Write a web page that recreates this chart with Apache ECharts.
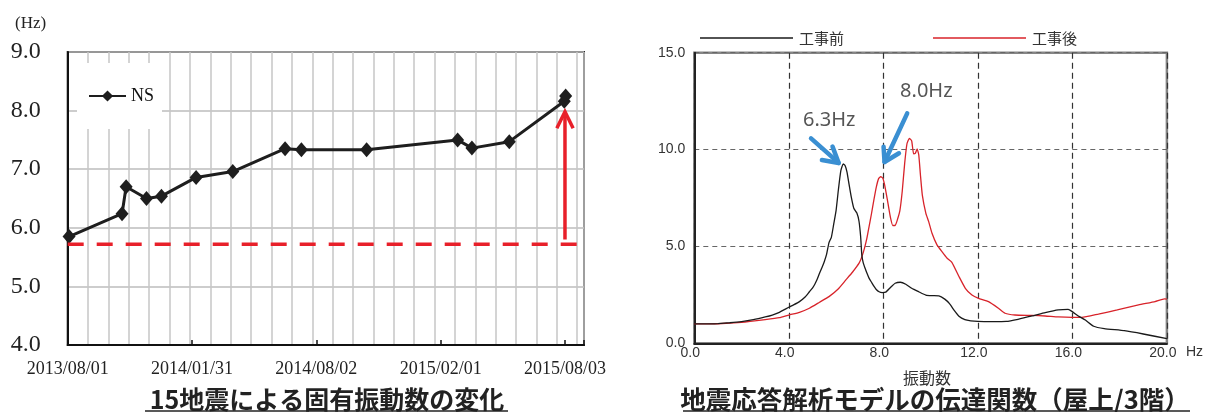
<!DOCTYPE html>
<html><head><meta charset="utf-8">
<script src="https://cdn.jsdelivr.net/npm/echarts@6/dist/echarts.min.js"></script>
<style>html,body{margin:0;padding:0;background:#fff}#c{width:1206px;height:412px}</style>
</head><body><div id="c"></div>
<script>
// ---------- Left chart data ----------
const startDate = '2013/08/01';
const endDate = '2015/08/31';
const quakeDates = ['2013/08/03','2013/10/20','2013/10/26','2013/11/25','2013/12/17','2014/02/06','2014/04/01','2014/06/17','2014/07/11','2014/10/15','2015/02/26','2015/03/19','2015/05/13','2015/08/02','2015/08/04'];
const nsFreq = [5.85,6.24,6.70,6.50,6.54,6.86,6.96,7.35,7.33,7.33,7.50,7.36,7.47,8.16,8.25];
const dateTickLabels = ['2013/08/01','2014/01/31','2014/08/02','2015/02/01','2015/08/03'];
const baselineFreq = 5.72;
const baselineEndDate = '2015/08/21';
const arrowDate = '2015/08/03';
const arrowFromFreq = 5.80;
const arrowToFreq = 7.98;

// ---------- Right chart data ----------
const freqBefore = [0,0.5,1,1.5,2,2.5,3,3.3,3.6,4,4.2,4.45,4.7,4.87,5.0,5.1,5.2,5.3,5.4,5.5,5.6,5.7,5.8,5.9,6.0,6.1,6.2,6.3,6.38,6.46,6.55,6.64,6.75,6.88,6.97,7.04,7.09,7.15,7.22,7.3,7.4,7.5,7.6,7.7,7.82,7.95,8.1,8.3,8.5,8.72,8.95,9.2,9.5,9.8,10.05,10.35,10.6,10.8,11.0,11.2,11.45,11.7,12.0,12.6,13.2,13.7,14.3,14.85,15.4,15.82,15.98,16.25,16.55,16.9,17.35,18.2,19.0,20.0];
const ampBefore = [1.0,1.0,1.02,1.06,1.12,1.22,1.36,1.46,1.60,1.86,1.98,2.15,2.40,2.66,2.85,3.05,3.30,3.62,3.90,4.21,4.60,5.20,5.47,6.15,6.85,7.95,8.90,9.26,9.18,8.85,8.20,7.57,6.97,6.72,6.30,5.50,4.55,4.15,3.90,3.64,3.35,3.15,2.95,2.78,2.66,2.62,2.64,2.88,3.10,3.15,3.05,2.84,2.66,2.49,2.46,2.45,2.28,2.05,1.70,1.40,1.22,1.16,1.13,1.12,1.13,1.24,1.41,1.58,1.72,1.75,1.65,1.41,1.20,0.88,0.76,0.65,0.48,0.24];
const freqAfter = [0,1,2,3,3.6,4.0,4.45,4.87,5.3,5.7,6.1,6.4,6.7,6.98,7.1,7.2,7.3,7.4,7.5,7.6,7.7,7.8,7.89,7.98,8.05,8.12,8.2,8.3,8.4,8.5,8.6,8.7,8.8,8.9,9.0,9.1,9.2,9.28,9.35,9.43,9.5,9.57,9.65,9.8,9.92,10.06,10.27,10.48,10.7,10.9,11.2,11.47,11.75,12.03,12.45,12.87,13.15,13.57,14.3,14.85,15.4,16.0,16.4,17.1,17.9,18.8,19.5,19.9,20.0];
const ampAfter = [1.0,1.01,1.08,1.22,1.32,1.46,1.60,1.81,2.12,2.41,2.82,3.25,3.68,4.15,4.50,4.90,5.40,6.05,6.70,7.40,8.05,8.50,8.60,8.52,8.20,7.75,7.20,6.50,6.08,6.08,6.40,6.85,7.85,9.25,10.30,10.58,10.45,9.78,9.80,10.03,9.72,8.69,7.65,6.71,6.28,5.68,5.08,4.73,4.39,4.18,3.45,2.84,2.49,2.32,2.15,1.81,1.55,1.46,1.44,1.41,1.36,1.34,1.34,1.51,1.72,1.98,2.15,2.29,2.28];
const peakBefore = 6.3;
const peakAfter = 8.0;

// annotations (data coordinates of the right chart)
const arrowBefore = {from:[4.94,10.58], tip:[6.11,9.31], wingA:[5.40,9.46], wingB:[5.85,10.15], text:[5.71,11.53]};
const arrowAfter  = {from:[9.01,11.87], tip:[8.05,9.36], wingA:[8.01,10.15], wingB:[8.66,9.81], text:[9.82,13.0]};

// ---------- helpers ----------
function utc(s){const [y,m,d]=s.split('/').map(Number);return Date.UTC(y,m-1,d);}
function dayOf(s){return Math.round((utc(s)-utc(startDate))/86400000);}
const SERIF='Liberation Serif', SANS='Liberation Sans', JP='"Noto Sans CJK JP"';
const tickDays = dateTickLabels.map(dayOf);
const maxDay = dayOf(endDate);
const majorStep = tickDays[1]-tickDays[0];

function seg(name, xi, yi, pts, color, width, extra){
  return Object.assign({type:'line', name, xAxisIndex:xi, yAxisIndex:yi, data:pts, symbol:'none', silent:true,
    animation:false, z:6, lineStyle:{color, width, cap:'round', join:'round'}}, extra||{});
}

const chart = echarts.init(document.getElementById('c'), null, {renderer:'canvas'});
const blue = '#3a8fd2';
const option = {
  animation:false,
  backgroundColor:'#fff',
  grid:[
    {left:67.7, right:622, top:52, bottom:67, show:true, borderColor:'#2a2a2a', borderWidth:2, backgroundColor:'rgba(0,0,0,0)'},
    {left:694.3, right:36.7, top:52.7, bottom:68.7, show:true, borderColor:'#858585', borderWidth:2.5, backgroundColor:'rgba(0,0,0,0)'}
  ],
  legend:[
    {data:['NS'], left:77, top:63, padding:[24,8,24,11], backgroundColor:'#fff', itemWidth:37, itemHeight:14,
      textStyle:{fontFamily:SERIF, fontSize:18, color:'#111'}},
    {data:[{name:'工事前', icon:'rect'},{name:'工事後', icon:'rect'}], left:695, top:25.5, itemWidth:93, itemHeight:1.5, itemGap:89,
      textStyle:{fontFamily:JP, fontSize:15, color:'#333', padding:[0,0,0,1]}}
  ],
  xAxis:[
    {gridIndex:0, type:'value', min:0, max:maxDay, interval:majorStep, position:'bottom',
      axisLine:{show:true, lineStyle:{color:'#111', width:2}},
      axisTick:{show:true, inside:true, length:5, lineStyle:{color:'#111', width:1.5}},
      axisLabel:{show:true, margin:15, fontFamily:SERIF, fontSize:18, color:'#222',
        formatter:v=>{const i=tickDays.indexOf(Math.round(v));return i>=0?dateTickLabels[i]:'';}},
      splitLine:{show:false}},
    {gridIndex:0, type:'value', min:0, max:maxDay, interval:30, position:'top',
      axisLine:{show:false}, axisTick:{show:false}, axisLabel:{show:false},
      splitLine:{show:true, lineStyle:{color:'#c6c6c6', width:1.5}}},
    {gridIndex:1, type:'value', min:0, max:20, interval:4, position:'bottom',
      name:'Hz', nameLocation:'end', nameGap:19,
      nameTextStyle:{fontFamily:SANS, fontSize:14, color:'#333', verticalAlign:'top', padding:[2,0,0,0]},
      axisLine:{show:true, lineStyle:{color:'#222', width:2}},
      axisTick:{show:false},
      axisLabel:{margin:3, fontFamily:SANS, fontSize:14, color:'#333', padding:[0,8,0,0], formatter:v=>v.toFixed(1)},
      splitLine:{show:true, lineStyle:{color:'#333', width:1.2, type:[6,4]}}}
  ],
  yAxis:[
    {gridIndex:0, type:'value', min:4, max:9, interval:1,
      axisLine:{show:true, lineStyle:{color:'#111', width:2}}, axisTick:{show:false},
      axisLabel:{margin:27, fontFamily:SERIF, fontSize:24, color:'#222', formatter:v=>v.toFixed(1)},
      splitLine:{show:true, lineStyle:{color:'#bdbdbd', width:1.5}}},
    {gridIndex:1, type:'value', min:0, max:15, interval:5,
      axisLine:{show:true, lineStyle:{color:'#222', width:2}}, axisTick:{show:false},
      axisLabel:{margin:9, fontFamily:SANS, fontSize:14, color:'#333', formatter:v=>v.toFixed(1)},
      splitLine:{show:true, lineStyle:{color:'#666', width:1.2, type:[5,4]}}}
  ],
  series:[
    {type:'line', name:'NS', xAxisIndex:0, yAxisIndex:0, z:5,
      data:quakeDates.map((d,i)=>[dayOf(d), nsFreq[i]]),
      symbol:'diamond', symbolSize:[13,15], showSymbol:true,
      lineStyle:{color:'#1e1e1e', width:3}, itemStyle:{color:'#1e1e1e'}},
    seg('baseline', 0, 0, [[0, baselineFreq],[dayOf(baselineEndDate), baselineFreq]], '#e8202a', 3.5, {lineStyle:{color:'#e8202a', width:3.5, type:[16,13]}}),
    seg('arrowShaft', 0, 0, [[dayOf(arrowDate), arrowFromFreq],[dayOf(arrowDate), arrowToFreq]], '#e8202a', 3.5, {lineStyle:{color:'#e8202a', width:3.5, cap:'butt'}}),
    seg('arrowHead', 0, 0, [[dayOf(arrowDate)-12, arrowToFreq-0.28],[dayOf(arrowDate), arrowToFreq],[dayOf(arrowDate)+12, arrowToFreq-0.28]], '#e8202a', 3.5, {lineStyle:{color:'#e8202a', width:3.5, join:'miter'}}),
    {type:'line', name:'工事前', xAxisIndex:2, yAxisIndex:1, z:4, symbol:'none', smooth:0.15,
      data:freqBefore.map((f,i)=>[f, ampBefore[i]]), lineStyle:{color:'#1a1a1a', width:1.3}, itemStyle:{color:'#1a1a1a'}},
    {type:'line', name:'工事後', xAxisIndex:2, yAxisIndex:1, z:3, symbol:'none', smooth:0.15,
      data:freqAfter.map((f,i)=>[f, ampAfter[i]]), lineStyle:{color:'#d8232a', width:1.3}, itemStyle:{color:'#d8232a'}},
    seg('a1s', 2, 1, [arrowBefore.from, arrowBefore.tip], blue, 4.5),
    seg('a1h', 2, 1, [arrowBefore.wingA, arrowBefore.tip, arrowBefore.wingB], blue, 4.5),
    seg('a2s', 2, 1, [arrowAfter.from, arrowAfter.tip], blue, 4.5),
    seg('a2h', 2, 1, [arrowAfter.wingA, arrowAfter.tip, arrowAfter.wingB], blue, 4.5),
    {type:'scatter', name:'peaks', xAxisIndex:2, yAxisIndex:1, silent:true, symbolSize:1, z:7,
      itemStyle:{color:'rgba(0,0,0,0)'},
      data:[[...arrowBefore.text, peakBefore.toFixed(1)+'Hz'],[...arrowAfter.text, peakAfter.toFixed(1)+'Hz']],
      label:{show:true, position:'inside', formatter:p=>p.data[2], fontFamily:'Noto Sans', fontSize:20, color:'#2a2a2a'}}
  ],
  graphic:[
    {type:'text', x:15, y:24, style:{text:'(Hz)', font:'17px "Liberation Serif"', fill:'#222', align:'left', verticalAlign:'middle'}},
    {type:'text', x:327, y:399, style:{text:'15地震による固有振動数の変化', font:'bold 25px "Noto Sans CJK JP"', fill:'#222', align:'center', verticalAlign:'middle'}},
    {type:'line', shape:{x1:145, y1:411, x2:508, y2:411}, style:{stroke:'#222', lineWidth:1.5}},
    {type:'text', x:935, y:399, style:{text:'地震応答解析モデルの伝達関数（屋上/3階）', font:'bold 25.5px "Noto Sans CJK JP"', fill:'#222', align:'center', verticalAlign:'middle'}},
    {type:'line', shape:{x1:683, y1:411, x2:1190, y2:411}, style:{stroke:'#222', lineWidth:1.5}},
    {type:'text', x:927, y:378, style:{text:'振動数', font:'16px "Noto Sans CJK JP"', fill:'#333', align:'center', verticalAlign:'middle'}}
  ]
};
chart.setOption(option);
</script></body></html>
